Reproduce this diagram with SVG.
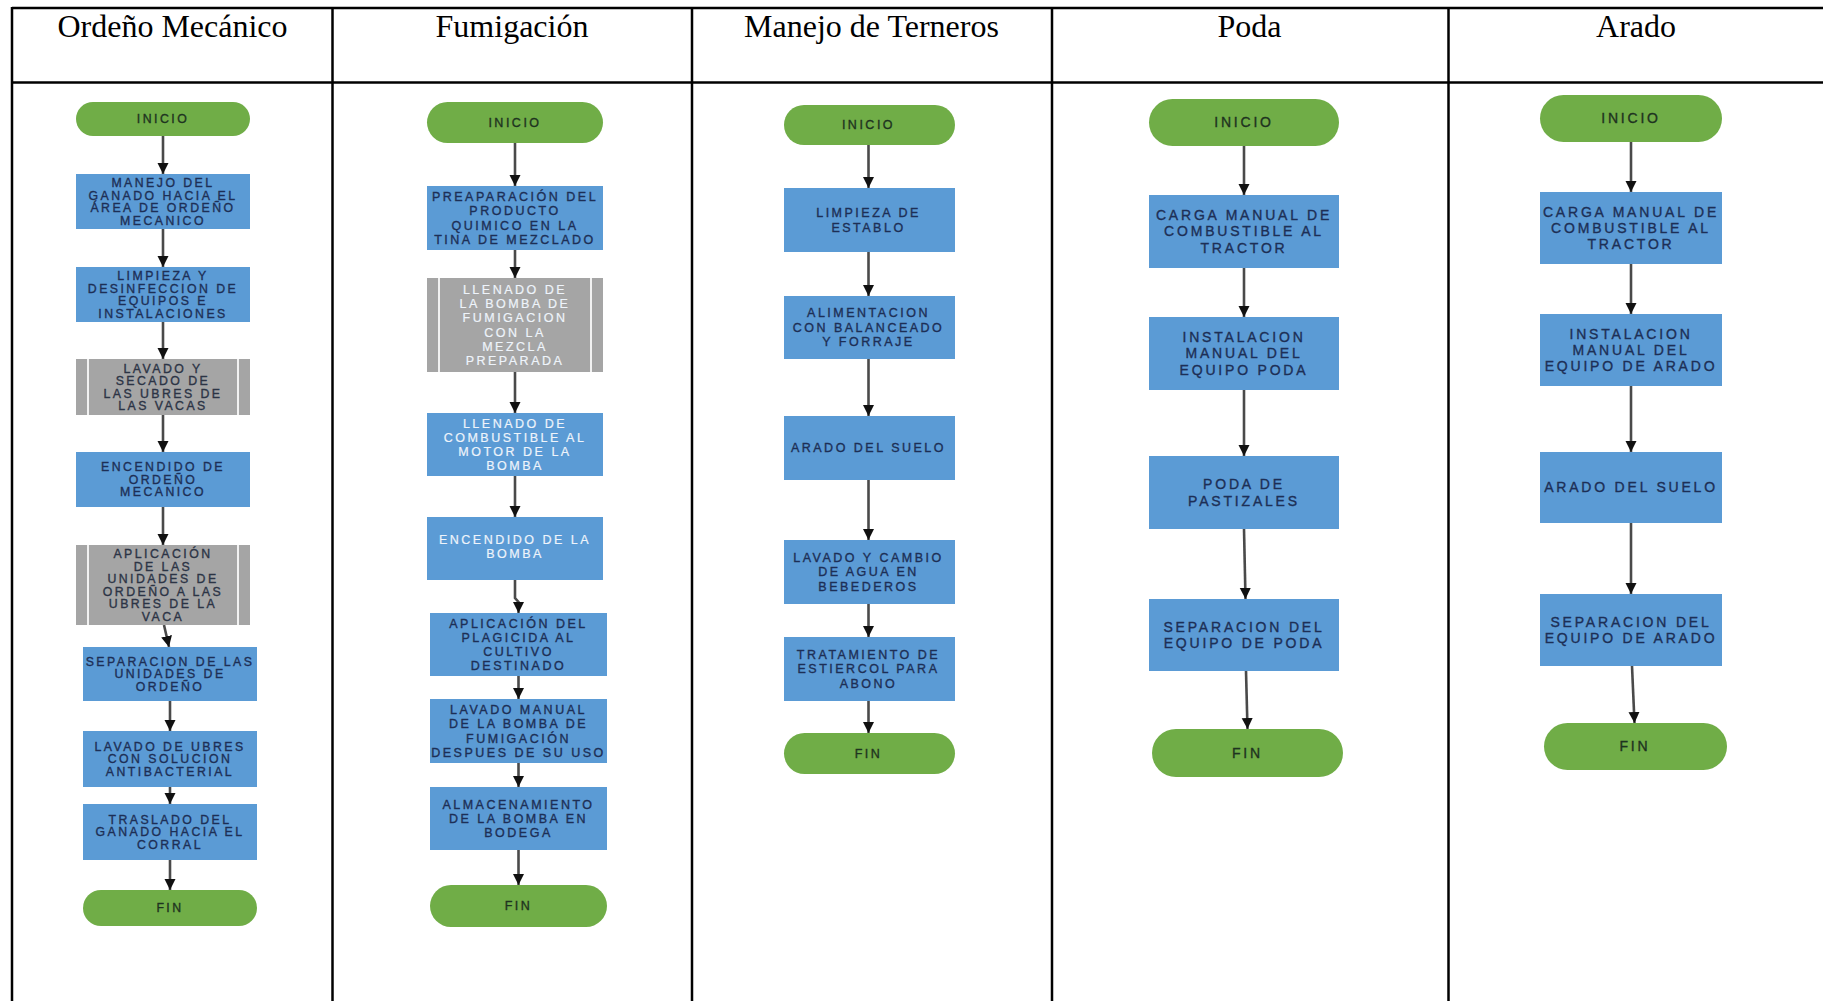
<svg xmlns="http://www.w3.org/2000/svg" width="1823" height="1001" viewBox="0 0 1823 1001">
  <defs>
    <marker id="ah" viewBox="0 0 10 10" refX="10" refY="5" markerWidth="11" markerHeight="15" markerUnits="userSpaceOnUse" orient="auto">
      <path d="M0,0 L10,5 L0,10 z" fill="#111"/>
    </marker>
    <style>
      .grid { stroke: #000; stroke-width: 2.5; fill: none; }
      .head { font-family: "Liberation Serif", "Times New Roman", serif; font-size: 32px; fill: #000; text-anchor: middle; }
      .pill { fill: #70AD47; }
      .box { fill: #5B9BD5; }
      .pp { fill: #A5A5A5; }
      .ppl { stroke: #f2f2f2; stroke-width: 2; }
      .t { font-family: "Liberation Sans", Arial, sans-serif; text-anchor: middle; letter-spacing: 0.2em; fill: #1d2f56; stroke: #1d2f56; stroke-width: 0.35; }
      .tp { fill: #1e3320; stroke: #1e3320; }
      .tw { fill: #eef4fb; stroke: #eef4fb; stroke-width: 0.2; }
      .tg { fill: #2c3445; stroke: #2c3445; }
      .c1 { font-size: 12.3px; }
      .c2 { font-size: 12.5px; }
      .c4 { font-size: 14px; }
      .arrow { stroke: #4a4a4a; stroke-width: 2.6; fill: none; marker-end: url(#ah); }
    </style>
  </defs>
  <rect width="1823" height="1001" fill="#fff"/>

  <!-- table grid -->
  <g id="table">
    <line class="grid" x1="12" y1="8" x2="1823" y2="8"/>
    <line class="grid" x1="12" y1="82.5" x2="1823" y2="82.5"/>
    <line class="grid" x1="12" y1="7" x2="12" y2="1001"/>
    <line class="grid" x1="332.5" y1="7" x2="332.5" y2="1001"/>
    <line class="grid" x1="692" y1="7" x2="692" y2="1001"/>
    <line class="grid" x1="1052" y1="7" x2="1052" y2="1001"/>
    <line class="grid" x1="1448.5" y1="7" x2="1448.5" y2="1001"/>
  </g>

  <!-- column headings -->
  <g id="headings">
    <text class="head" x="172.5" y="37">Ordeño Mecánico</text>
    <text class="head" x="512" y="37">Fumigación</text>
    <text class="head" x="871.5" y="37">Manejo de Terneros</text>
    <text class="head" x="1249.5" y="37">Poda</text>
    <text class="head" x="1636" y="37">Arado</text>
  </g>

  <!-- connectors -->
  <g id="connectors">
    <!-- Ordeño Mecánico -->
    <line class="arrow" x1="163" y1="136" x2="163" y2="174"/>
    <line class="arrow" x1="163" y1="229" x2="163" y2="267"/>
    <line class="arrow" x1="163" y1="322" x2="163" y2="359"/>
    <line class="arrow" x1="163" y1="415" x2="163" y2="452"/>
    <line class="arrow" x1="163" y1="507" x2="163" y2="545"/>
    <line class="arrow" x1="164" y1="625" x2="169" y2="647"/>
    <line class="arrow" x1="170" y1="701" x2="170" y2="731"/>
    <line class="arrow" x1="170" y1="787" x2="170" y2="804"/>
    <line class="arrow" x1="170" y1="860" x2="170" y2="890"/>
    <!-- Fumigación -->
    <line class="arrow" x1="515" y1="143" x2="515" y2="186"/>
    <line class="arrow" x1="515" y1="250" x2="515" y2="278"/>
    <line class="arrow" x1="515" y1="372" x2="515" y2="413"/>
    <line class="arrow" x1="515" y1="476" x2="515" y2="517"/>
    <polyline class="arrow" points="515,580 515,598 518.5,602 518.5,613"/>
    <line class="arrow" x1="518.5" y1="676" x2="518.5" y2="699"/>
    <line class="arrow" x1="518.5" y1="763" x2="518.5" y2="787"/>
    <line class="arrow" x1="518.5" y1="850" x2="518.5" y2="885"/>
    <!-- Manejo de Terneros -->
    <line class="arrow" x1="868.5" y1="145" x2="868.5" y2="188"/>
    <line class="arrow" x1="868.5" y1="252" x2="868.5" y2="296"/>
    <line class="arrow" x1="868.5" y1="359" x2="868.5" y2="416"/>
    <line class="arrow" x1="868.5" y1="480" x2="868.5" y2="540"/>
    <line class="arrow" x1="868.5" y1="604" x2="868.5" y2="637"/>
    <line class="arrow" x1="868.5" y1="701" x2="868.5" y2="733"/>
    <!-- Poda -->
    <line class="arrow" x1="1244" y1="146" x2="1244" y2="195"/>
    <line class="arrow" x1="1244" y1="268" x2="1244" y2="317"/>
    <line class="arrow" x1="1244" y1="390" x2="1244" y2="456"/>
    <line class="arrow" x1="1244" y1="529" x2="1245.5" y2="599"/>
    <line class="arrow" x1="1246" y1="671" x2="1247.5" y2="729"/>
    <!-- Arado -->
    <line class="arrow" x1="1631" y1="142" x2="1631" y2="192"/>
    <line class="arrow" x1="1631" y1="264" x2="1631" y2="314"/>
    <line class="arrow" x1="1631" y1="386" x2="1631" y2="452"/>
    <line class="arrow" x1="1631" y1="523" x2="1631" y2="594"/>
    <line class="arrow" x1="1632" y1="666" x2="1634.5" y2="723"/>
  </g>

  <!-- ===== Ordeño Mecánico ===== -->
  <g id="om-inicio">
    <rect class="pill" x="76" y="102" width="174" height="34" rx="17"/>
    <text class="t tp c1" x="163" y="123.3">INICIO</text>
  </g>
  <g id="om-1">
    <rect class="box" x="76" y="174" width="174" height="55"/>
    <text class="t c1" x="163" y="187"><tspan x="163">MANEJO DEL</tspan><tspan x="163" dy="12.5">GANADO HACIA EL</tspan><tspan x="163" dy="12.5">ÁREA DE ORDEÑO</tspan><tspan x="163" dy="12.5">MECANICO</tspan></text>
  </g>
  <g id="om-2">
    <rect class="box" x="76" y="267" width="174" height="55"/>
    <text class="t c1" x="163" y="280"><tspan x="163">LIMPIEZA Y</tspan><tspan x="163" dy="12.5">DESINFECCION DE</tspan><tspan x="163" dy="12.5">EQUIPOS E</tspan><tspan x="163" dy="12.5">INSTALACIONES</tspan></text>
  </g>
  <g id="om-3">
    <rect class="pp" x="76" y="359" width="174" height="56"/>
    <line class="ppl" x1="88" y1="359" x2="88" y2="415"/>
    <line class="ppl" x1="238" y1="359" x2="238" y2="415"/>
    <text class="t tg c1" x="163" y="372.5"><tspan x="163">LAVADO Y</tspan><tspan x="163" dy="12.5">SECADO DE</tspan><tspan x="163" dy="12.5">LAS UBRES DE</tspan><tspan x="163" dy="12.5">LAS VACAS</tspan></text>
  </g>
  <g id="om-4">
    <rect class="box" x="76" y="452" width="174" height="55"/>
    <text class="t c1" x="163" y="471.3"><tspan x="163">ENCENDIDO DE</tspan><tspan x="163" dy="12.5">ORDEÑO</tspan><tspan x="163" dy="12.5">MECANICO</tspan></text>
  </g>
  <g id="om-5">
    <rect class="pp" x="76" y="545" width="174" height="80"/>
    <line class="ppl" x1="88" y1="545" x2="88" y2="625"/>
    <line class="ppl" x1="238" y1="545" x2="238" y2="625"/>
    <text class="t tg c1" x="163" y="558"><tspan x="163">APLICACIÓN</tspan><tspan x="163" dy="12.5">DE LAS</tspan><tspan x="163" dy="12.5">UNIDADES DE</tspan><tspan x="163" dy="12.5">ORDEÑO A LAS</tspan><tspan x="163" dy="12.5">UBRES DE LA</tspan><tspan x="163" dy="12.5">VACA</tspan></text>
  </g>
  <g id="om-6">
    <rect class="box" x="83" y="647" width="174" height="54"/>
    <text class="t c1" x="170" y="665.8"><tspan x="170">SEPARACION DE LAS</tspan><tspan x="170" dy="12.5">UNIDADES DE</tspan><tspan x="170" dy="12.5">ORDEÑO</tspan></text>
  </g>
  <g id="om-7">
    <rect class="box" x="83" y="731" width="174" height="56"/>
    <text class="t c1" x="170" y="750.8"><tspan x="170">LAVADO DE UBRES</tspan><tspan x="170" dy="12.5">CON SOLUCION</tspan><tspan x="170" dy="12.5">ANTIBACTERIAL</tspan></text>
  </g>
  <g id="om-8">
    <rect class="box" x="83" y="804" width="174" height="56"/>
    <text class="t c1" x="170" y="823.8"><tspan x="170">TRASLADO DEL</tspan><tspan x="170" dy="12.5">GANADO HACIA EL</tspan><tspan x="170" dy="12.5">CORRAL</tspan></text>
  </g>
  <g id="om-fin">
    <rect class="pill" x="83" y="890" width="174" height="36" rx="18"/>
    <text class="t tp c1" x="170" y="912.3">FIN</text>
  </g>

  <!-- ===== Fumigación ===== -->
  <g id="fu-inicio">
    <rect class="pill" x="427" y="102" width="176" height="41" rx="20.5"/>
    <text class="t tp c2" x="515" y="127">INICIO</text>
  </g>
  <g id="fu-1">
    <rect class="box" x="427" y="186" width="176" height="64"/>
    <text class="t c2" x="515" y="201"><tspan x="515">PREAPARACIÓN DEL</tspan><tspan x="515" dy="14.3">PRODUCTO</tspan><tspan x="515" dy="14.3">QUIMICO EN LA</tspan><tspan x="515" dy="14.3">TINA DE MEZCLADO</tspan></text>
  </g>
  <g id="fu-2">
    <rect class="pp" x="427" y="278" width="176" height="94"/>
    <line class="ppl" x1="439" y1="278" x2="439" y2="372"/>
    <line class="ppl" x1="591" y1="278" x2="591" y2="372"/>
    <text class="t tw c2" x="515" y="293.7"><tspan x="515">LLENADO DE</tspan><tspan x="515" dy="14.3">LA BOMBA DE</tspan><tspan x="515" dy="14.3">FUMIGACION</tspan><tspan x="515" dy="14.3">CON LA</tspan><tspan x="515" dy="14.3">MEZCLA</tspan><tspan x="515" dy="14.3">PREPARADA</tspan></text>
  </g>
  <g id="fu-3">
    <rect class="box" x="427" y="413" width="176" height="63"/>
    <text class="t tw c2" x="515" y="427.5"><tspan x="515">LLENADO DE</tspan><tspan x="515" dy="14.3">COMBUSTIBLE AL</tspan><tspan x="515" dy="14.3">MOTOR DE LA</tspan><tspan x="515" dy="14.3">BOMBA</tspan></text>
  </g>
  <g id="fu-4">
    <rect class="box" x="427" y="517" width="176" height="63"/>
    <text class="t tw c2" x="515" y="544"><tspan x="515">ENCENDIDO DE LA</tspan><tspan x="515" dy="14.3">BOMBA</tspan></text>
  </g>
  <g id="fu-5">
    <rect class="box" x="430" y="613" width="177" height="63"/>
    <text class="t c2" x="518.5" y="627.5"><tspan x="518.5">APLICACIÓN DEL</tspan><tspan x="518.5" dy="14.3">PLAGICIDA AL</tspan><tspan x="518.5" dy="14.3">CULTIVO</tspan><tspan x="518.5" dy="14.3">DESTINADO</tspan></text>
  </g>
  <g id="fu-6">
    <rect class="box" x="430" y="699" width="177" height="64"/>
    <text class="t c2" x="518.5" y="714"><tspan x="518.5">LAVADO MANUAL</tspan><tspan x="518.5" dy="14.3">DE LA BOMBA DE</tspan><tspan x="518.5" dy="14.3">FUMIGACIÓN</tspan><tspan x="518.5" dy="14.3">DESPUES DE SU USO</tspan></text>
  </g>
  <g id="fu-7">
    <rect class="box" x="430" y="787" width="177" height="63"/>
    <text class="t c2" x="518.5" y="808.6"><tspan x="518.5">ALMACENAMIENTO</tspan><tspan x="518.5" dy="14.3">DE LA BOMBA EN</tspan><tspan x="518.5" dy="14.3">BODEGA</tspan></text>
  </g>
  <g id="fu-fin">
    <rect class="pill" x="430" y="885" width="177" height="42" rx="21"/>
    <text class="t tp c2" x="518.5" y="910.4">FIN</text>
  </g>

  <!-- ===== Manejo de Terneros ===== -->
  <g id="mt-inicio">
    <rect class="pill" x="784" y="105" width="171" height="40" rx="20"/>
    <text class="t tp c2" x="868.5" y="129.4">INICIO</text>
  </g>
  <g id="mt-1">
    <rect class="box" x="784" y="188" width="171" height="64"/>
    <text class="t c2" x="868.5" y="217.2"><tspan x="868.5">LIMPIEZA DE</tspan><tspan x="868.5" dy="14.5">ESTABLO</tspan></text>
  </g>
  <g id="mt-2">
    <rect class="box" x="784" y="296" width="171" height="63"/>
    <text class="t c2" x="868.5" y="317.4"><tspan x="868.5">ALIMENTACION</tspan><tspan x="868.5" dy="14.5">CON BALANCEADO</tspan><tspan x="868.5" dy="14.5">Y FORRAJE</tspan></text>
  </g>
  <g id="mt-3">
    <rect class="box" x="784" y="416" width="171" height="64"/>
    <text class="t c2" x="868.5" y="452.4">ARADO DEL SUELO</text>
  </g>
  <g id="mt-4">
    <rect class="box" x="784" y="540" width="171" height="64"/>
    <text class="t c2" x="868.5" y="561.9"><tspan x="868.5">LAVADO Y CAMBIO</tspan><tspan x="868.5" dy="14.5">DE AGUA EN</tspan><tspan x="868.5" dy="14.5">BEBEDEROS</tspan></text>
  </g>
  <g id="mt-5">
    <rect class="box" x="784" y="637" width="171" height="64"/>
    <text class="t c2" x="868.5" y="658.9"><tspan x="868.5">TRATAMIENTO DE</tspan><tspan x="868.5" dy="14.5">ESTIERCOL PARA</tspan><tspan x="868.5" dy="14.5">ABONO</tspan></text>
  </g>
  <g id="mt-fin">
    <rect class="pill" x="784" y="733" width="171" height="41" rx="20.5"/>
    <text class="t tp c2" x="868.5" y="757.9">FIN</text>
  </g>

  <!-- ===== Poda ===== -->
  <g id="po-inicio">
    <rect class="pill" x="1149" y="99" width="190" height="47" rx="23.5"/>
    <text class="t tp c4" x="1244" y="127.4">INICIO</text>
  </g>
  <g id="po-1">
    <rect class="box" x="1149" y="195" width="190" height="73"/>
    <text class="t c4" x="1244" y="220.1"><tspan x="1244">CARGA MANUAL DE</tspan><tspan x="1244" dy="16.3">COMBUSTIBLE AL</tspan><tspan x="1244" dy="16.3">TRACTOR</tspan></text>
  </g>
  <g id="po-2">
    <rect class="box" x="1149" y="317" width="190" height="73"/>
    <text class="t c4" x="1244" y="342.1"><tspan x="1244">INSTALACION</tspan><tspan x="1244" dy="16.3">MANUAL DEL</tspan><tspan x="1244" dy="16.3">EQUIPO PODA</tspan></text>
  </g>
  <g id="po-3">
    <rect class="box" x="1149" y="456" width="190" height="73"/>
    <text class="t c4" x="1244" y="489.2"><tspan x="1244">PODA DE</tspan><tspan x="1244" dy="16.3">PASTIZALES</tspan></text>
  </g>
  <g id="po-4">
    <rect class="box" x="1149" y="599" width="190" height="72"/>
    <text class="t c4" x="1244" y="631.7"><tspan x="1244">SEPARACION DEL</tspan><tspan x="1244" dy="16.3">EQUIPO DE PODA</tspan></text>
  </g>
  <g id="po-fin">
    <rect class="pill" x="1152" y="729" width="191" height="48" rx="24"/>
    <text class="t tp c4" x="1247.5" y="757.9">FIN</text>
  </g>

  <!-- ===== Arado ===== -->
  <g id="ar-inicio">
    <rect class="pill" x="1540" y="95" width="182" height="47" rx="23.5"/>
    <text class="t tp c4" x="1631" y="123.4">INICIO</text>
  </g>
  <g id="ar-1">
    <rect class="box" x="1540" y="192" width="182" height="72"/>
    <text class="t c4" x="1631" y="216.6"><tspan x="1631">CARGA MANUAL DE</tspan><tspan x="1631" dy="16.3">COMBUSTIBLE AL</tspan><tspan x="1631" dy="16.3">TRACTOR</tspan></text>
  </g>
  <g id="ar-2">
    <rect class="box" x="1540" y="314" width="182" height="72"/>
    <text class="t c4" x="1631" y="338.6"><tspan x="1631">INSTALACION</tspan><tspan x="1631" dy="16.3">MANUAL DEL</tspan><tspan x="1631" dy="16.3">EQUIPO DE ARADO</tspan></text>
  </g>
  <g id="ar-3">
    <rect class="box" x="1540" y="452" width="182" height="71"/>
    <text class="t c4" x="1631" y="492.4">ARADO DEL SUELO</text>
  </g>
  <g id="ar-4">
    <rect class="box" x="1540" y="594" width="182" height="72"/>
    <text class="t c4" x="1631" y="626.7"><tspan x="1631">SEPARACION DEL</tspan><tspan x="1631" dy="16.3">EQUIPO DE ARADO</tspan></text>
  </g>
  <g id="ar-fin">
    <rect class="pill" x="1544" y="723" width="183" height="47" rx="23.5"/>
    <text class="t tp c4" x="1635" y="751.4">FIN</text>
  </g>
</svg>
